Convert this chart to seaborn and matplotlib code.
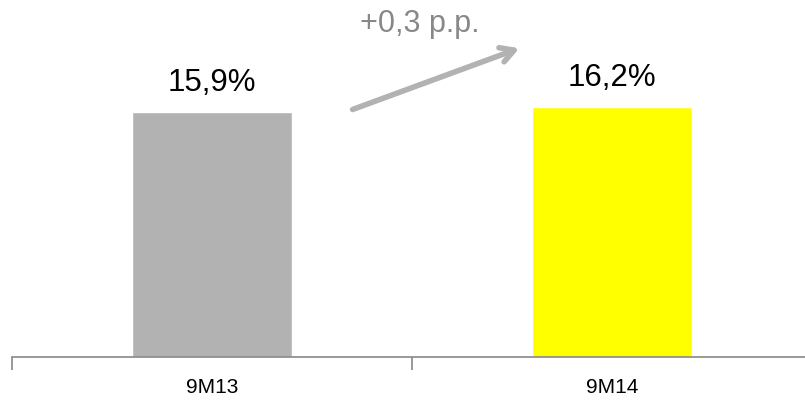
import matplotlib
matplotlib.use("Agg")
import matplotlib.pyplot as plt
import seaborn as sns
import pandas as pd

periods = ["9M13", "9M14"]
margins = [15.9, 16.2]
bar_colors = ["#B2B2B2", "#FFFF00"]
change_label = "+0,3 p.p."

sns.set_theme(style="white")
plt.rcParams["font.family"] = ["Liberation Sans", "DejaVu Sans"]

df = pd.DataFrame({"period": periods, "margin": margins})

fig = plt.figure(figsize=(8.05, 4.07), dpi=100)
ax = fig.add_axes([12 / 805, (407 - 357) / 407, 1 - 12 / 805, 357 / 407])

sns.barplot(data=df, x="period", y="margin", hue="period", palette=bar_colors,
            width=0.4, legend=False, ax=ax, saturation=1)

for s in ["top", "right", "left"]:
    ax.spines[s].set_visible(False)
ax.spines["bottom"].set_color("#888888")
ax.spines["bottom"].set_linewidth(1.2)

ax.set_xticks([-0.5, 0.5, 1.5], minor=True)
ax.tick_params(axis="x", which="minor", length=9, color="#888888", width=1.2,
               direction="out", bottom=True)
ax.tick_params(axis="x", which="major", length=0, labelsize=15, pad=15,
               labelcolor="#000000")
ax.set_yticks([])
ax.set_xlabel("")
ax.set_ylabel("")

ax.set_xlim(-0.5, 1.4825)
ax.set_ylim(0, 357 / 15.41)

for i, v in enumerate(margins):
    ax.text(i, v + 1.36, f"{v:.1f}%".replace(".", ","), ha="center", va="baseline",
            fontsize=22.5, color="#000000")

# growth arrow between the bars
ax.annotate("", xy=(0.775, 20.1), xytext=(0.345, 16.0),
            arrowprops=dict(arrowstyle="->,head_length=0.8,head_width=0.45",
                            color="#B2B2B2", lw=4))
ax.text(0.52, 21.6, change_label, ha="center", va="center", fontsize=22,
        color="#888888")

fig.savefig("out.png", dpi=100)
